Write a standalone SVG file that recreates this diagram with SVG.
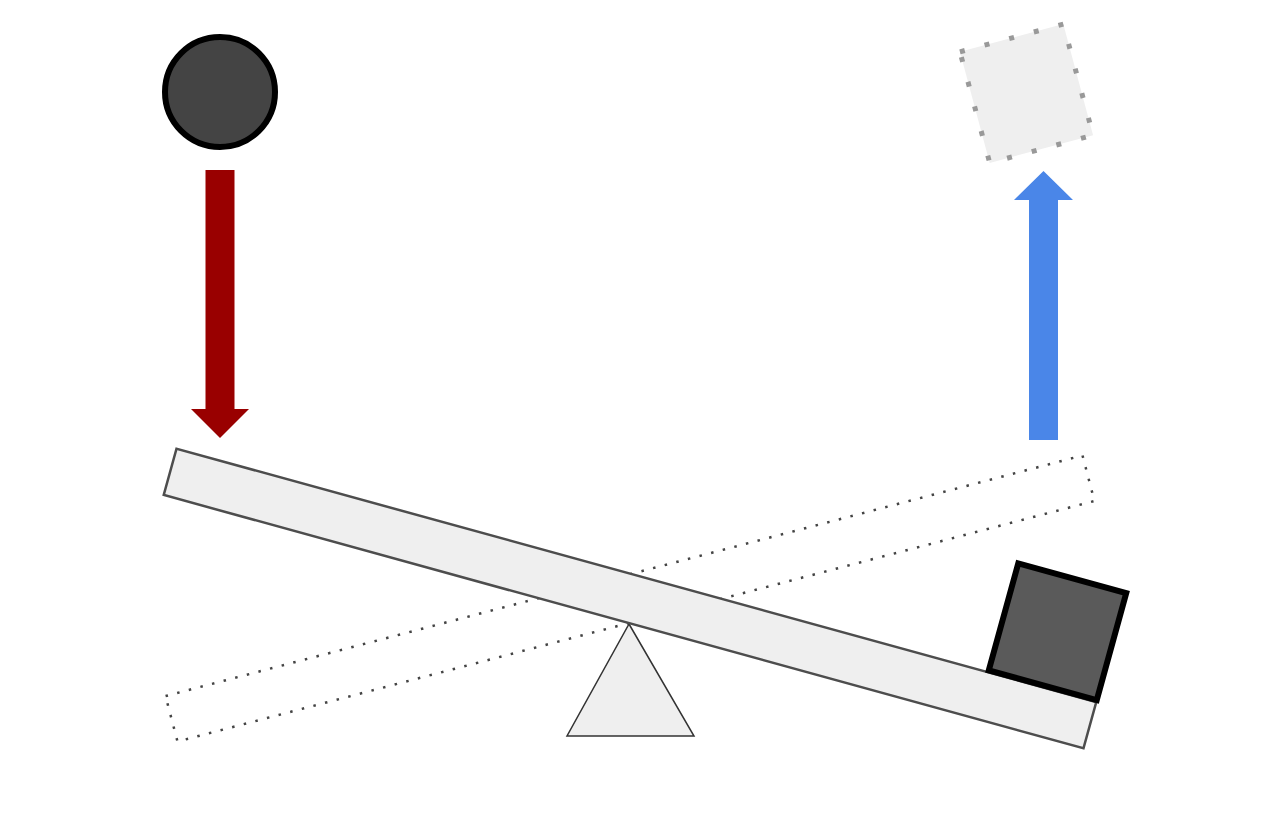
<svg xmlns="http://www.w3.org/2000/svg" width="1280" height="832" viewBox="0 0 1280 832">
<style>
.plank{fill:#efefef;stroke:#4d4d4d;stroke-width:2.5}
.ghost{fill:none;stroke:#444;stroke-width:2.5}
.fulcrum{fill:#efefef;stroke:#333;stroke-width:1.5;stroke-linejoin:miter}
.ball{fill:#444;stroke:#000;stroke-width:6}
.box{fill:#5a5a5a;stroke:#000;stroke-width:6;stroke-linejoin:miter}
.ghostbox{fill:#efefef;stroke:#999;stroke-width:5}
</style>
<rect width="1280" height="832" fill="#fff"/>
<g id="ghost-plank"><rect class="ghost" stroke-dasharray="2.5,9.5" x="156" y="575" width="948" height="47" transform="rotate(-14.7 630 598.5)"/></g>
<g id="fulcrum"><polygon class="fulcrum" points="629,624 694,736 567,736"/></g>
<g id="plank"><rect class="plank" x="153" y="574.5" width="954" height="48" transform="rotate(15.4 630 598.5)"/></g>
<g id="weight-box"><rect class="box" x="1001.5" y="576.25" width="112" height="111" transform="rotate(15.4 1057.5 631.75)"/></g>
<g id="ball"><circle class="ball" cx="220" cy="92" r="55"/></g>
<g id="ghost-box"><rect class="ghostbox" stroke-dasharray="5,20.5" x="973" y="36" width="107" height="115" transform="rotate(-15 1026.5 93.5)"/></g>
<g id="connectors">
<polygon fill="#990000" points="205.5,170 234.5,170 234.5,409 249,409 220,438 191,409 205.5,409"/>
<polygon fill="#4a86e8" points="1029,440 1058,440 1058,200 1073,200 1043.5,171 1014,200 1029,200"/>
</g>
</svg>
